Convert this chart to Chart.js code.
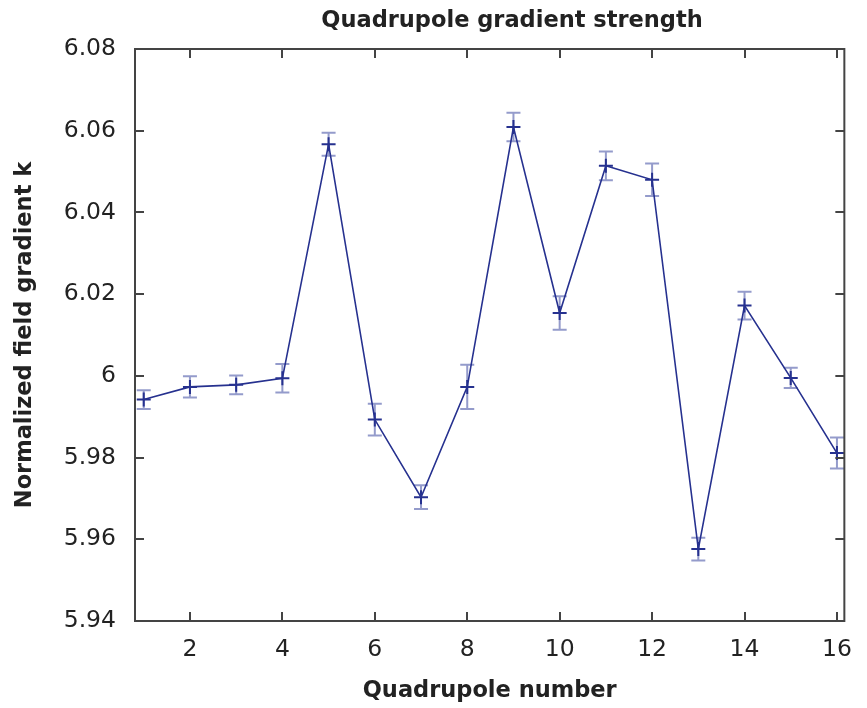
<!DOCTYPE html>
<html>
<head>
<meta charset="utf-8">
<script src="https://cdn.jsdelivr.net/npm/chart.js@4.4.1/dist/chart.umd.min.js"></script>
<style>
    body { margin: 0; background: #fff; }
    #wrap { position: relative; width: 867px; height: 708px; }
    #title {
        position: absolute; left: 512px; top: 6px; transform: translateX(-50%);
        font: bold 22.5px 'DejaVu Sans', sans-serif; color: #222; white-space: nowrap;
    }
</style>
</head>
<body>
<div id="wrap">
    <div id="title">Quadrupole gradient strength</div>
    <canvas id="quadChart" width="867" height="708"></canvas>
</div>
<script>
// Dữ liệu
const quadNumbers = [1, 2, 3, 4, 5, 6, 7, 8, 9, 10, 11, 12, 13, 14, 15, 16];
const kValues = [5.9942, 5.9973, 5.9978, 5.9994, 6.0567, 5.9893, 5.9703, 5.9973,
                 6.0609, 6.0154, 6.0514, 6.0480, 5.9576, 6.0172, 5.9995, 5.9811];
const kErrors = [0.0023, 0.0026, 0.0023, 0.0035, 0.0028, 0.0039, 0.0029, 0.0054,
                 0.0035, 0.0041, 0.0035, 0.0040, 0.0028, 0.0034, 0.0025, 0.0038];
const xTicks = [2, 4, 6, 8, 10, 12, 14, 16];
const yTicks = [5.94, 5.96, 5.98, 6, 6.02, 6.04, 6.06, 6.08];
const yTickLabels = ['5.94', '5.96', '5.98', '6', '6.02', '6.04', '6.06', '6.08'];

const lineColor = '#26318f';
const errColor = 'rgba(60, 72, 160, 0.55)';
const frameColor = '#444';

Chart.defaults.font.family = "'DejaVu Sans', sans-serif";

// Thanh sai số
const errorBars = {
    id: 'errorBars',
    beforeDatasetsDraw(chart) {
        const ctx = chart.ctx;
        const xs = chart.scales.x, ys = chart.scales.y;
        ctx.save();
        ctx.strokeStyle = errColor;
        ctx.lineWidth = 2;
        quadNumbers.forEach(function(q, i) {
            const px = xs.getPixelForValue(q);
            const top = ys.getPixelForValue(kValues[i] + kErrors[i]);
            const bot = ys.getPixelForValue(kValues[i] - kErrors[i]);
            ctx.beginPath();
            ctx.moveTo(px, top); ctx.lineTo(px, bot);
            ctx.moveTo(px - 7, top); ctx.lineTo(px + 7, top);
            ctx.moveTo(px - 7, bot); ctx.lineTo(px + 7, bot);
            ctx.stroke();
        });
        ctx.restore();
    }
};

// Khung và vạch chia hướng vào trong
const frameTicks = {
    id: 'frameTicks',
    afterDraw(chart) {
        const ctx = chart.ctx;
        const a = chart.chartArea;
        const xs = chart.scales.x, ys = chart.scales.y;
        const len = 9;
        ctx.save();
        ctx.strokeStyle = frameColor;
        ctx.lineWidth = 2;
        ctx.strokeRect(a.left, a.top, a.right - a.left, a.bottom - a.top);
        ctx.beginPath();
        xTicks.forEach(function(v) {
            const px = Math.round(xs.getPixelForValue(v));
            ctx.moveTo(px, a.bottom); ctx.lineTo(px, a.bottom - len);
            ctx.moveTo(px, a.top); ctx.lineTo(px, a.top + len);
        });
        yTicks.forEach(function(v) {
            const py = Math.round(ys.getPixelForValue(v));
            ctx.moveTo(a.left, py); ctx.lineTo(a.left + len, py);
            ctx.moveTo(a.right, py); ctx.lineTo(a.right - len, py);
        });
        ctx.stroke();
        ctx.restore();
    }
};

const ctx = document.getElementById('quadChart').getContext('2d');
const quadChart = new Chart(ctx, {
    type: 'line',
    data: {
        datasets: [{
            label: 'k',
            data: quadNumbers.map(function(q, i) { return { x: q, y: kValues[i] }; }),
            borderColor: lineColor,
            borderWidth: 1.6,
            pointStyle: 'cross',
            pointRadius: 7,
            pointBorderWidth: 2,
            pointBorderColor: lineColor,
            pointBackgroundColor: lineColor,
            tension: 0,
            fill: false
        }]
    },
    plugins: [errorBars, frameTicks],
    options: {
        responsive: false,
        animation: false,
        layout: { padding: { left: 0, right: 9, top: 49, bottom: 0 } },
        plugins: {
            legend: { display: false },
            tooltip: { enabled: false }
        },
        scales: {
            x: {
                type: 'linear',
                min: 0.811,
                max: 16.16,
                afterBuildTicks: function(scale) {
                    scale.ticks = xTicks.map(function(v) { return { value: v }; });
                },
                afterFit: function(scale) { scale.height = 87; },
                grid: { display: false, drawTicks: false },
                border: { display: false },
                ticks: {
                    autoSkip: false,
                    maxRotation: 0,
                    padding: 15,
                    color: '#222',
                    font: { size: 23.5 }
                },
                title: {
                    display: true,
                    text: 'Quadrupole number',
                    color: '#222',
                    font: { size: 22.5, weight: 'bold' },
                    padding: { top: 0, bottom: 3 }
                }
            },
            y: {
                type: 'linear',
                min: 5.94,
                max: 6.08,
                afterBuildTicks: function(scale) {
                    scale.ticks = yTicks.map(function(v) { return { value: v }; });
                },
                afterFit: function(scale) { scale.width = 135; },
                grid: { display: false, drawTicks: false },
                border: { display: false },
                ticks: {
                    autoSkip: false,
                    padding: 19,
                    color: '#222',
                    font: { size: 23.5 },
                    callback: function(value) {
                        const i = yTicks.indexOf(value);
                        return i >= 0 ? yTickLabels[i] : '';
                    }
                },
                title: {
                    display: true,
                    text: 'Normalized field gradient k',
                    color: '#222',
                    font: { size: 22.5, weight: 'bold' },
                    padding: { top: 12, bottom: 0 }
                }
            }
        }
    }
});
</script>
</body>
</html>
